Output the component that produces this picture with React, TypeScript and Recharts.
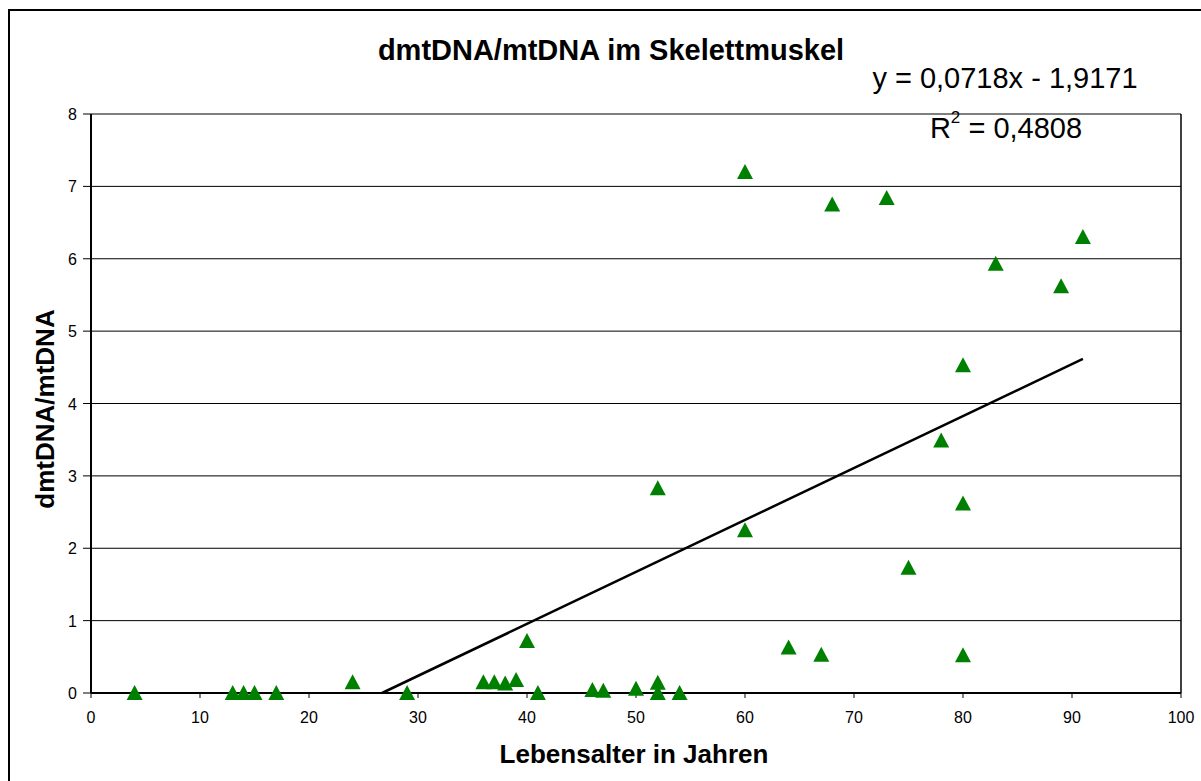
import React from 'react';
import { ScatterChart, Scatter, XAxis, YAxis, CartesianGrid, ReferenceLine } from 'recharts';

// Lebensalter (Jahre) and dmtDNA/mtDNA ratio
const ages = [4, 13, 14, 15, 17, 24, 29, 36, 37, 38, 39, 40, 41, 46, 47, 50, 52, 52, 52, 54, 60, 60, 64, 67, 68, 73, 75, 78, 80, 80, 80, 83, 89, 91];
const ratios = [0, 0, 0, 0, 0, 0.15, 0, 0.15, 0.15, 0.13, 0.18, 0.72, 0, 0.04, 0.03, 0.06, 0.14, 0, 2.83, 0, 7.2, 2.25, 0.63, 0.53, 6.75, 6.84, 1.73, 3.49, 4.53, 2.62, 0.52, 5.93, 5.62, 6.3];

const xTicks = [0, 10, 20, 30, 40, 50, 60, 70, 80, 90, 100];
const yTicks = [0, 1, 2, 3, 4, 5, 6, 7, 8];

// linear trend y = 0,0718x - 1,9171
const slope = 0.0718;
const intercept = -1.9171;

const points = ages.map((x, i) => ({ x, y: ratios[i] }));
const trendStart = -intercept / slope;
const trendEnd = Math.max(...ages);

const font = 'Arial, "Liberation Sans", sans-serif';

const Triangle = (props: any) => {
  const { cx, cy } = props;
  if (cx == null || cy == null) return null;
  return <polygon points={`${cx},${cy - 8} ${cx + 8},${cy + 7} ${cx - 8},${cy + 7}`} fill="#008000" />;
};

const XTick = (props: any) => {
  const { x, y, payload } = props;
  return (
    <text x={x} y={y + 25} textAnchor="middle" fontSize={16} fontFamily={font} fill="#000">
      {payload.value}
    </text>
  );
};

const YTick = (props: any) => {
  const { payload, y } = props;
  return (
    <text x={77} y={y + 6} textAnchor="end" fontSize={16} fontFamily={font} fill="#000">
      {payload.value}
    </text>
  );
};

export default function App() {
  return (
    <div style={{ position: 'absolute', left: 0, top: 0, width: 1201, height: 781, background: '#fff', fontFamily: font, overflow: 'hidden', lineHeight: 1 }}>
      <div style={{ position: 'absolute', left: 8, top: 9, width: 1210, height: 800, borderLeft: '2px solid #000', borderTop: '2px solid #000' }} />
      <ScatterChart width={1201} height={781} margin={{ top: 114, right: 20, bottom: 58, left: 51 }}>
        <CartesianGrid vertical={false} stroke="#000" strokeWidth={1} />
        <XAxis
          type="number"
          dataKey="x"
          domain={[0, 100]}
          ticks={xTicks}
          interval={0}
          tick={<XTick />}
          tickSize={5}
          tickMargin={0}
          stroke="#000"
          axisLine={{ stroke: '#000', strokeWidth: 2 }}
          height={30}
        />
        <YAxis
          type="number"
          dataKey="y"
          domain={[0, 8]}
          ticks={yTicks}
          interval={0}
          tick={<YTick />}
          tickSize={8}
          tickMargin={0}
          stroke="#000"
          axisLine={{ stroke: '#000', strokeWidth: 2 }}
          width={40}
        />
        <ReferenceLine x={100} stroke="#000" strokeWidth={1.5} />
        <ReferenceLine
          segment={[{ x: trendStart, y: 0 }, { x: trendEnd, y: slope * trendEnd + intercept }]}
          stroke="#000"
          strokeWidth={2.5}
        />
        <Scatter data={points} shape={<Triangle />} isAnimationActive={false} />
      </ScatterChart>
      <div style={{ position: 'absolute', left: 0, width: 1222, top: 36, textAlign: 'center', fontSize: 29, fontWeight: 'bold', whiteSpace: 'nowrap' }}>
        dmtDNA/mtDNA im Skelettmuskel
      </div>
      <div style={{ position: 'absolute', left: 805, width: 400, top: 64, textAlign: 'center', fontSize: 29, whiteSpace: 'nowrap' }}>
        y = 0,0718x - 1,9171
      </div>
      <div style={{ position: 'absolute', left: 806, width: 400, top: 114, textAlign: 'center', fontSize: 29, whiteSpace: 'nowrap' }}>
        R<sup style={{ fontSize: 17, verticalAlign: 'top', position: 'relative', top: -5 }}>2</sup> = 0,4808
      </div>
      <div style={{ position: 'absolute', left: 45, top: 409, transform: 'translate(-50%, -50%) rotate(-90deg)', fontSize: 26, fontWeight: 'bold', whiteSpace: 'nowrap' }}>
        dmtDNA/mtDNA
      </div>
      <div style={{ position: 'absolute', left: 0, width: 1268, top: 741, textAlign: 'center', fontSize: 26, fontWeight: 'bold', whiteSpace: 'nowrap' }}>
        Lebensalter in Jahren
      </div>
    </div>
  );
}
